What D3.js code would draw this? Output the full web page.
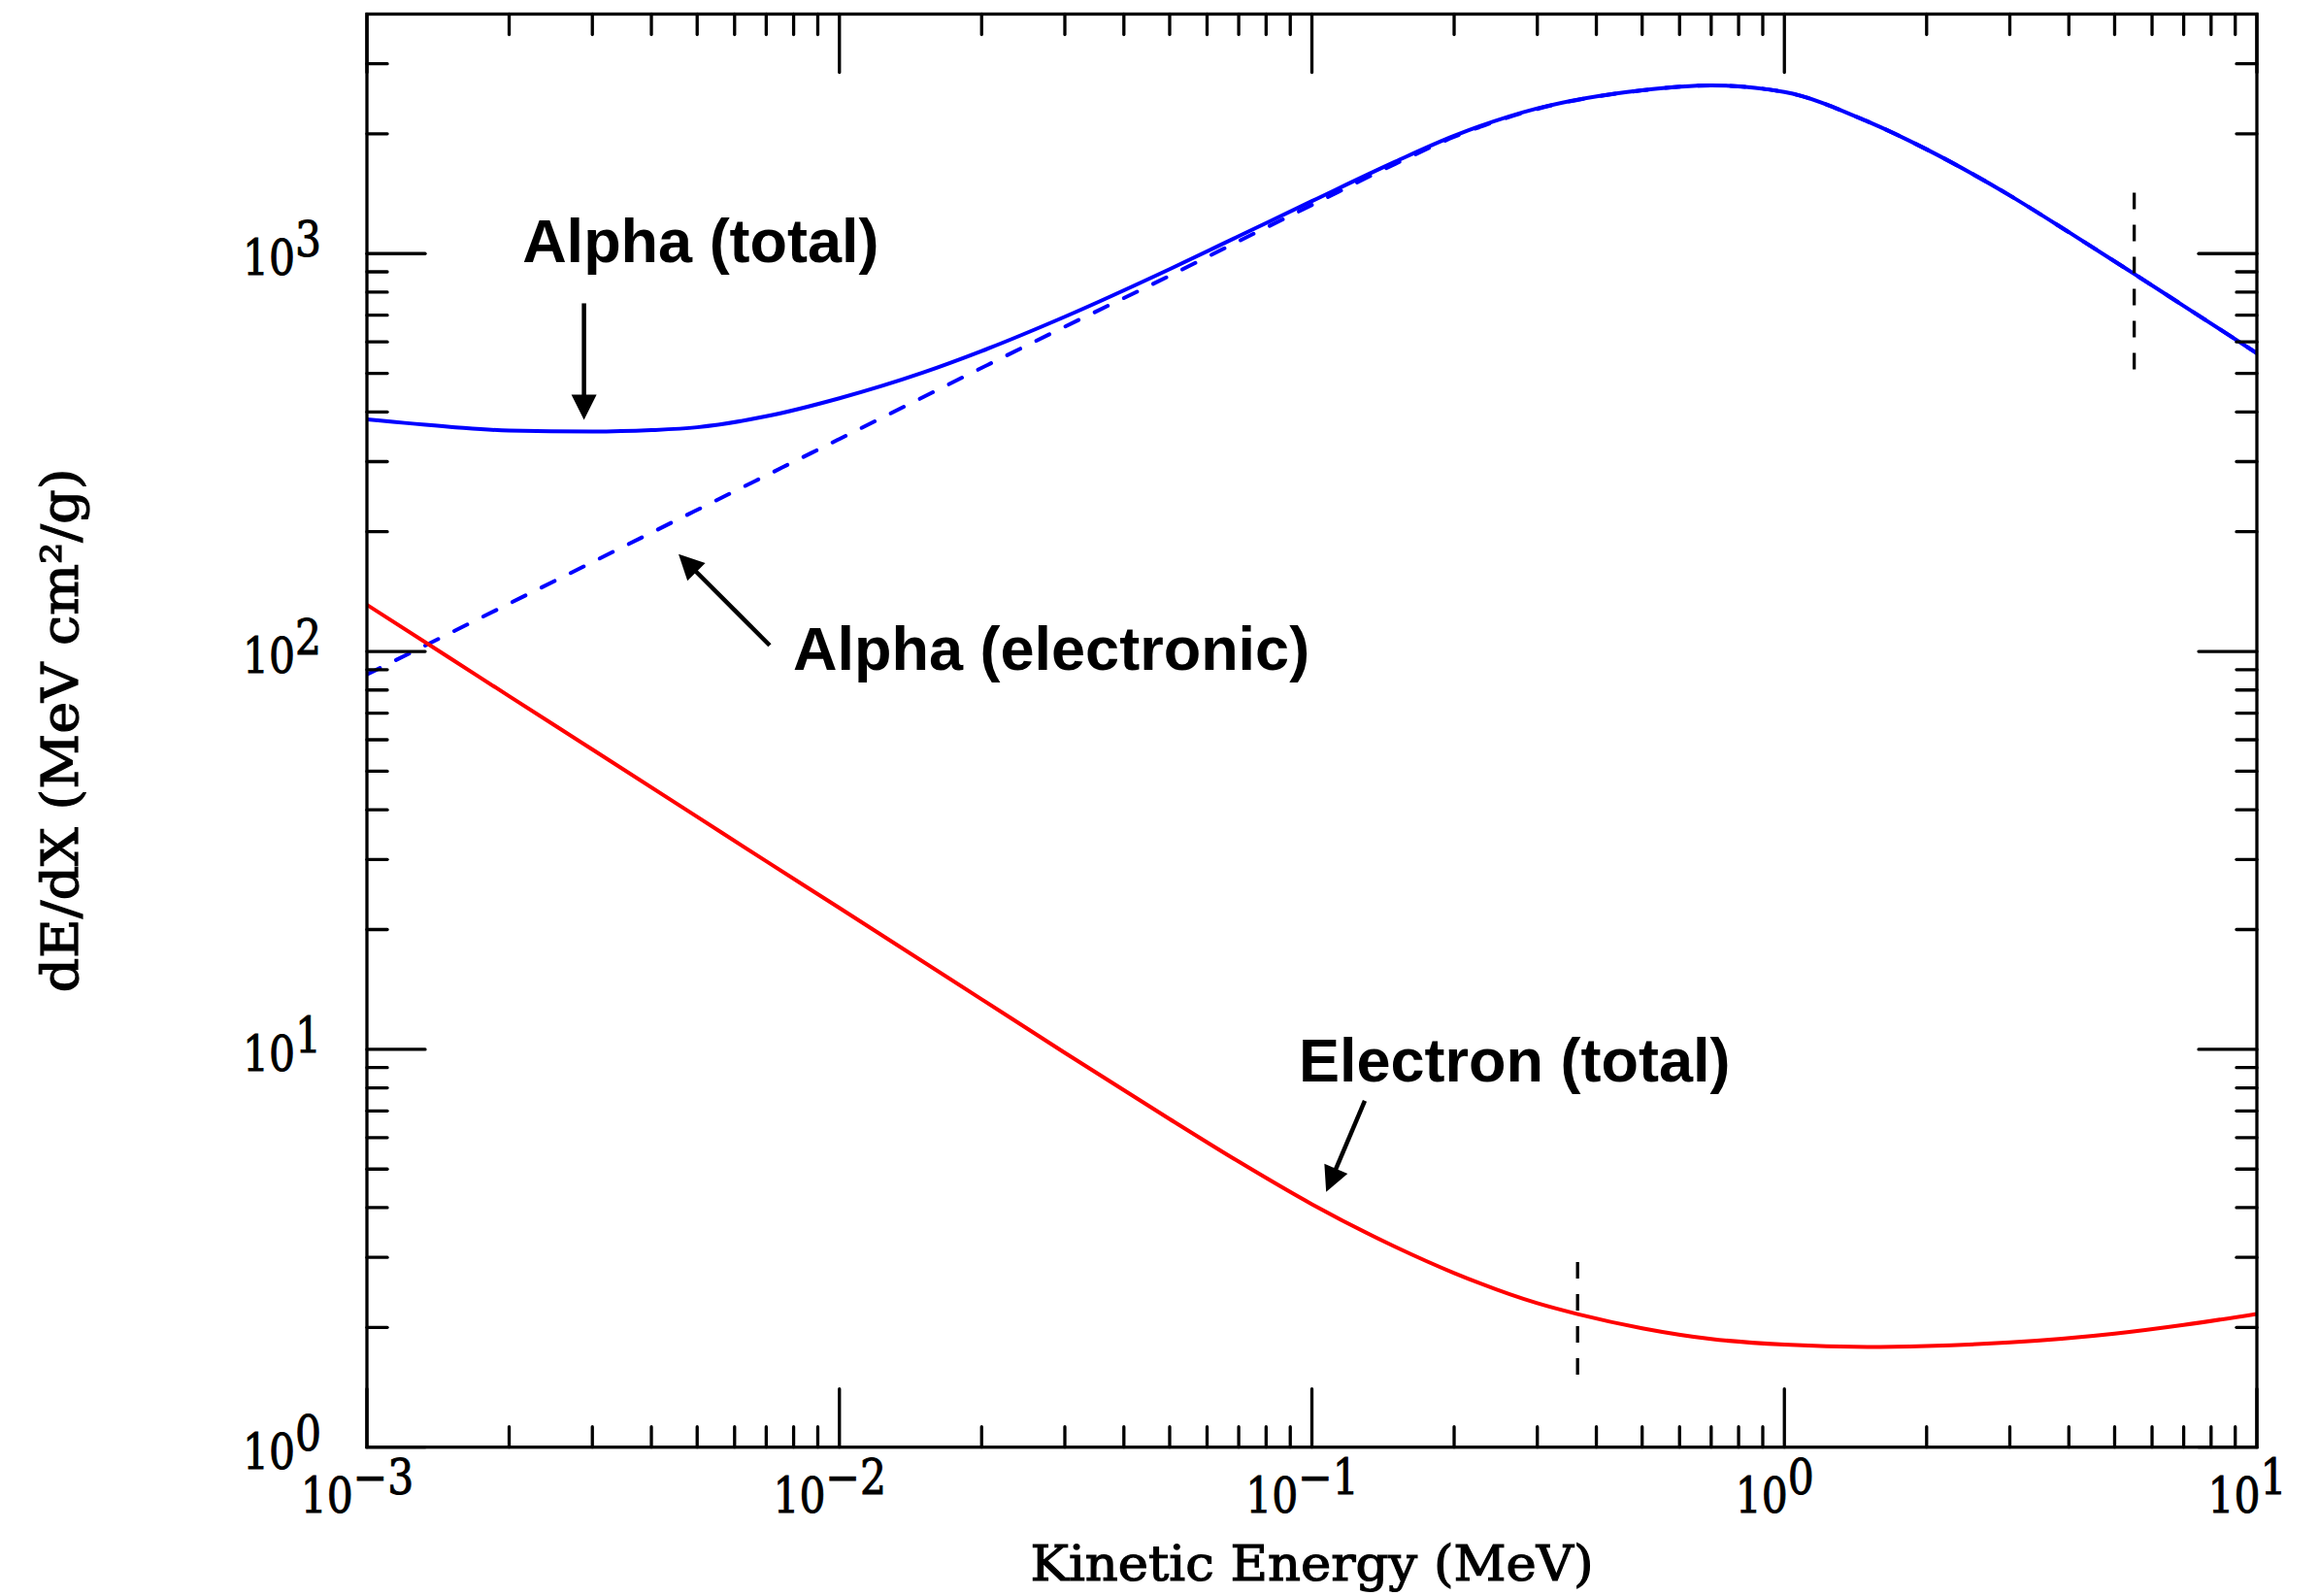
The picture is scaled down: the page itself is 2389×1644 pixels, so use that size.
<!DOCTYPE html>
<html><head><meta charset="utf-8">
<script src="https://cdn.jsdelivr.net/npm/d3@7"></script>
<style>html,body{margin:0;padding:0;background:#fff;} svg{display:block;}</style>
</head><body>
<svg id="chart" width="2389" height="1644"></svg>
<script>
// ---- data ----
const energyAlpha = [0.001,0.0015,0.002,0.003,0.004,0.005,0.007,0.01,0.015,0.02,0.03,0.05,0.07,0.1,0.15,0.2,0.3,0.5,0.7,1,1.5,2,3,4,5.5,7,10];
const alphaTotal  = [383,367,359,357,360,366,390,433,502,569,694,914,1106,1355,1702,1977,2317,2575,2648,2548,2148,1828,1400,1132,889,739,562];
const energyAlphaElec = [0.001,0.01,0.03,0.05,0.07,0.1,0.15,0.2,0.3,0.5,0.7,1,1.5,2,3,4,5.5,7,10];
const alphaElectronic = [87.5,342,655,880,1075,1325,1680,1965,2310,2572,2647,2548,2148,1828,1400,1132,889,739,562];
const energyElectron = [0.001,0.0015,0.002,0.003,0.005,0.007,0.01,0.02,0.03,0.05,0.07,0.1,0.15,0.2,0.3,0.365,0.5,0.7,1,1.5,2,3,5,7,10];
const electronTotal  = [131,96.2,77.2,56.7,38.4,29.7,22.66,13.36,9.80,6.68,5.22,4.08,3.19,2.74,2.30,2.16,1.99,1.87,1.81,1.786,1.796,1.833,1.929,2.029,2.163];

const markerEnergy = [5.5, 0.365];
const markerLow    = [494, 1.488];
const markerHigh   = [1422, 2.92];

const xTickExps = [-3,-2,-1,0,1];
const yTickExps = [0,1,2,3];
const xTitle = "Kinetic Energy (MeV)";
const yTitle = "dE/dX (MeV cm²/g)";

const labelText = ["Alpha (total)","Alpha (electronic)","Electron (total)"];
const labelE = [0.002133, 0.00798, 0.0938];
const labelV = [954, 90, 8.31];
const arrowTailE = [0.00288, 0.00712, 0.1294];
const arrowTailV = [750, 103.6, 7.42];
const arrowTipE  = [0.00288, 0.004566, 0.1072];
const arrowTipV  = [382, 175.7, 4.38];

// ---- layout ----
const L = 378, R = 2325, T = 14.5, B = 1490.7;
const svg = d3.select("#chart");
const x = d3.scaleLog().domain([1e-3, 10]).range([L, R]);
const y = d3.scaleLog().domain([1, 4000]).range([B, T]);
const serif = "'DejaVu Serif', serif";
const isMajor = v => Math.abs(Math.log10(v) - Math.round(Math.log10(v))) < 1e-9;

// curves
const line = d3.line().x(d => x(d[0])).y(d => y(d[1])).curve(d3.curveMonotoneX);
svg.append("clipPath").attr("id","plotclip").append("rect")
  .attr("x", L).attr("y", T).attr("width", R-L).attr("height", B-T);
const plot = svg.append("g").attr("clip-path","url(#plotclip)");

plot.append("path").datum(d3.zip(energyAlphaElec, alphaElectronic))
  .attr("d", line).attr("fill","none").attr("stroke","#0000ff").attr("stroke-width",4)
  .attr("stroke-dasharray","15,18.5").attr("stroke-linecap","round");
plot.append("path").datum(d3.zip(energyAlpha, alphaTotal))
  .attr("d", line).attr("fill","none").attr("stroke","#0000ff").attr("stroke-width",4);
plot.append("path").datum(d3.zip(energyElectron, electronTotal))
  .attr("d", line).attr("fill","none").attr("stroke","#ff0000").attr("stroke-width",4);

// vertical dashed markers
svg.append("g").selectAll("line").data(markerEnergy).join("line")
  .attr("x1", d => x(d)).attr("x2", d => x(d))
  .attr("y1", (d,i) => y(markerHigh[i])).attr("y2", (d,i) => y(markerLow[i]))
  .attr("stroke","#000").attr("stroke-width",3.3).attr("stroke-dasharray","17,16");

// frame
svg.append("rect").attr("x", L).attr("y", T).attr("width", R-L).attr("height", B-T)
  .attr("fill","none").attr("stroke","#000").attr("stroke-width",3.3);

// ticks
const majorLen = 60, minorLen = 21;
const tg = svg.append("g").attr("stroke","#000").attr("stroke-width",3.3).attr("stroke-linecap","round");
const xt = x.ticks().filter(v => v >= 1e-3 && v <= 10);
tg.selectAll("line.xb").data(xt).join("line").attr("class","xb")
  .attr("x1", d => x(d)).attr("x2", d => x(d))
  .attr("y1", B).attr("y2", d => B - (isMajor(d) ? majorLen : minorLen));
tg.selectAll("line.xt").data(xt).join("line").attr("class","xt")
  .attr("x1", d => x(d)).attr("x2", d => x(d))
  .attr("y1", T).attr("y2", d => T + (isMajor(d) ? majorLen : minorLen));
const yt = y.ticks().filter(v => v >= 1 && v < 4000);
tg.selectAll("line.yl").data(yt).join("line").attr("class","yl")
  .attr("y1", d => y(d)).attr("y2", d => y(d))
  .attr("x1", L).attr("x2", d => L + (isMajor(d) ? majorLen : minorLen));
tg.selectAll("line.yr").data(yt).join("line").attr("class","yr")
  .attr("y1", d => y(d)).attr("y2", d => y(d))
  .attr("x1", R).attr("x2", d => R - (isMajor(d) ? majorLen : minorLen));

// tick labels
function expLabel(px, py, e, anchor) {
  const t = svg.append("g").attr("transform", `translate(${px},${py}) scale(0.85,1)`)
    .append("text").attr("text-anchor", anchor)
    .attr("font-family", serif).attr("font-size", 50).attr("fill","#000")
    .attr("stroke","#000").attr("stroke-width",1);
  t.append("tspan").text("10");
  t.append("tspan").attr("dy", -19).text(e < 0 ? "\u2212" + (-e) : String(e));
}
xTickExps.forEach(e => expLabel(x(Math.pow(10,e)) - 10, B + 67, e, "middle"));
yTickExps.forEach(e => expLabel(L - 47, y(Math.pow(10,e)) + 22, e, "end"));

// axis titles
svg.append("text").attr("x", (L+R)/2).attr("y", 1628).attr("text-anchor","middle")
  .attr("font-family", serif).attr("font-size", 50).attr("fill","#000")
  .attr("stroke","#000").attr("stroke-width",1.2)
  .attr("textLength", 580).attr("lengthAdjust","spacingAndGlyphs").text(xTitle);
svg.append("text").attr("transform", `translate(80,${(T+B)/2}) rotate(-90)`).attr("text-anchor","middle")
  .attr("font-family", serif).attr("font-size", 52).attr("fill","#000")
  .attr("stroke","#000").attr("stroke-width",1.2)
  .attr("textLength", 540).attr("lengthAdjust","spacingAndGlyphs").text(yTitle);

// annotations
const ag = svg.append("g");
labelText.forEach((s, i) => {
  ag.append("text").attr("x", x(labelE[i])).attr("y", y(labelV[i]))
    .attr("font-family","'Liberation Sans', Arial, Helvetica, sans-serif").attr("font-weight","bold")
    .attr("font-size", 63).attr("fill","#000").text(s);
  const x0 = x(arrowTailE[i]), y0 = y(arrowTailV[i]), x1 = x(arrowTipE[i]), y1 = y(arrowTipV[i]);
  const len = Math.hypot(x1-x0, y1-y0), ux = (x1-x0)/len, uy = (y1-y0)/len;
  const hl = 26, hw = 13;
  const bx = x1 - ux*hl, by = y1 - uy*hl;
  ag.append("line").attr("x1", x0).attr("y1", y0).attr("x2", bx + ux*2).attr("y2", by + uy*2)
    .attr("stroke","#000").attr("stroke-width",4.5);
  ag.append("path").attr("d", d3.line()([[x1,y1],[bx - uy*hw, by + ux*hw],[bx + uy*hw, by - ux*hw]]) + "Z")
    .attr("fill","#000");
});
</script>
</body></html>
